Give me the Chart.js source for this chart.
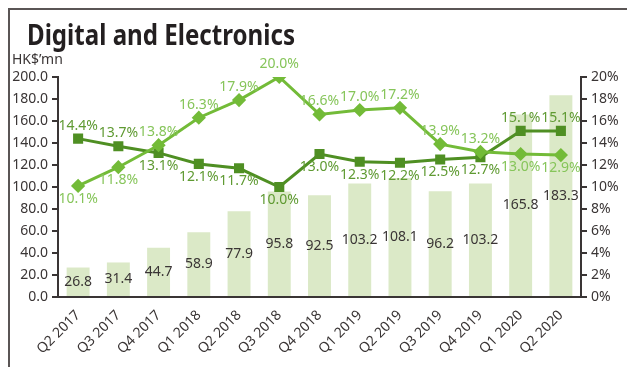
<!DOCTYPE html>
<html>
<head>
<meta charset="utf-8">
<script src="https://cdn.jsdelivr.net/npm/chart.js@4/dist/chart.umd.min.js"></script>
<style>
  html, body { margin: 0; padding: 0; background: #fff; }
  #wrap { width: 627px; height: 367px; position: relative; }
</style>
</head>
<body>
<div id="wrap"><canvas id="digitalChart"></canvas></div>
<script>
// quarterly data
const quarters = ['Q2 2017', 'Q3 2017', 'Q4 2017', 'Q1 2018', 'Q2 2018', 'Q3 2018', 'Q4 2018',
                  'Q1 2019', 'Q2 2019', 'Q3 2019', 'Q4 2019', 'Q1 2020', 'Q2 2020'];
const revenue = [26.8, 31.4, 44.7, 58.9, 77.9, 95.8, 92.5, 103.2, 108.1, 96.2, 103.2, 165.8, 183.3];
const darkPct = [14.4, 13.7, 13.1, 12.1, 11.7, 10.0, 13.0, 12.3, 12.2, 12.5, 12.7, 15.1, 15.1];
const lightPct = [10.1, 11.8, 13.8, 16.3, 17.9, 20.0, 16.6, 17.0, 17.2, 13.9, 13.2, 13.0, 12.9];
// label above (-1) or below (+1) each point
const darkSide = [-1, -1, 1, 1, 1, 1, 1, 1, 1, 1, 1, -1, -1];
const lightSide = [1, 1, -1, -1, -1, -1, -1, -1, -1, -1, -1, 1, 1];

const axisColor = '#3a3535';
const font = 'Noto Sans';

const decorPlugin = {
    id: 'decor',
    beforeDraw(chart) {
        const c = chart.ctx;
        c.save();
        c.strokeStyle = '#5a5555';
        c.lineWidth = 2;
        c.beginPath();
        c.moveTo(9, 367);
        c.lineTo(9, 9);
        c.lineTo(627, 9);
        c.stroke();

        c.fillStyle = '#231f20';
        c.font = 'bold 28px "' + font + '"';
        c.textBaseline = 'alphabetic';
        const t = 'Digital and Electronics';
        const w = c.measureText(t).width;
        c.translate(27, 45);
        c.scale(268 / w, 1);
        c.fillText(t, 0, 0);
        c.restore();

        c.save();
        c.fillStyle = axisColor;
        c.font = '14px "' + font + '"';
        c.textBaseline = 'middle';
        c.fillText('HK$\u2019mn', 12, 60);
        c.restore();
    },
    afterDatasetsDraw(chart) {
        const c = chart.ctx;
        c.save();
        c.font = '14px "' + font + '"';
        c.textAlign = 'center';
        c.textBaseline = 'middle';
        // bar values centred in the bars
        chart.getDatasetMeta(0).data.forEach((bar, i) => {
            c.fillStyle = axisColor;
            c.fillText(revenue[i].toFixed(1), bar.x, (bar.y + bar.base) / 2);
        });
        chart.getDatasetMeta(1).data.forEach((pt, i) => {
            c.fillStyle = '#5f9a32';
            c.fillText(darkPct[i].toFixed(1) + '%', pt.x, pt.y + darkSide[i] * 13);
        });
        chart.getDatasetMeta(2).data.forEach((pt, i) => {
            c.fillStyle = '#86c55a';
            c.fillText(lightPct[i].toFixed(1) + '%', pt.x, pt.y + lightSide[i] * 13);
        });
        c.restore();
    }
};

document.addEventListener('DOMContentLoaded', function() {
    const ctx = document.getElementById('digitalChart');
    new Chart(ctx, {
        data: {
            labels: quarters,
            datasets: [{
                type: 'bar',
                data: revenue,
                backgroundColor: '#dbe9c7',
                barPercentage: 0.57,
                categoryPercentage: 1,
                yAxisID: 'y',
                order: 3
            }, {
                type: 'line',
                data: darkPct,
                borderColor: '#4f8f23',
                backgroundColor: '#4f8f23',
                borderWidth: 3,
                pointStyle: 'rect',
                pointRadius: 5,
                tension: 0,
                yAxisID: 'y1',
                order: 2
            }, {
                type: 'line',
                data: lightPct,
                borderColor: '#73bb38',
                backgroundColor: '#73bb38',
                borderWidth: 3,
                pointStyle: 'rectRot',
                pointRadius: 5,
                tension: 0,
                yAxisID: 'y1',
                order: 1
            }]
        },
        options: {
            responsive: true,
            maintainAspectRatio: false,
            animation: false,
            layout: { padding: { top: 77, left: 0, right: 0, bottom: 0 } },
            plugins: {
                legend: { display: false },
                tooltip: { enabled: false }
            },
            scales: {
                x: {
                    grid: { display: false },
                    border: { display: true, color: axisColor, width: 2 },
                    ticks: {
                        color: axisColor,
                        font: { family: font, size: 14 },
                        minRotation: 45,
                        maxRotation: 45,
                        padding: 2
                    },
                    afterFit(scale) { scale.height = 70; }
                },
                y: {
                    position: 'left',
                    min: 0,
                    max: 200,
                    ticks: {
                        stepSize: 20,
                        color: axisColor,
                        font: { family: font, size: 14 },
                        padding: 4,
                        callback: v => v.toFixed(1)
                    },
                    grid: { drawOnChartArea: false, drawTicks: true, tickLength: 6, color: axisColor, lineWidth: 2 },
                    border: { display: true, color: axisColor, width: 2 },
                    afterFit(scale) { scale.width = 58; }
                },
                y1: {
                    position: 'right',
                    min: 0,
                    max: 20,
                    ticks: {
                        stepSize: 2,
                        color: axisColor,
                        font: { family: font, size: 14 },
                        padding: 4,
                        callback: v => v + '%'
                    },
                    grid: { drawOnChartArea: false, drawTicks: true, tickLength: 6, color: axisColor, lineWidth: 2 },
                    border: { display: true, color: axisColor, width: 2 },
                    afterFit(scale) { scale.width = 46; }
                }
            }
        },
        plugins: [decorPlugin]
    });
});
</script>
</body>
</html>
